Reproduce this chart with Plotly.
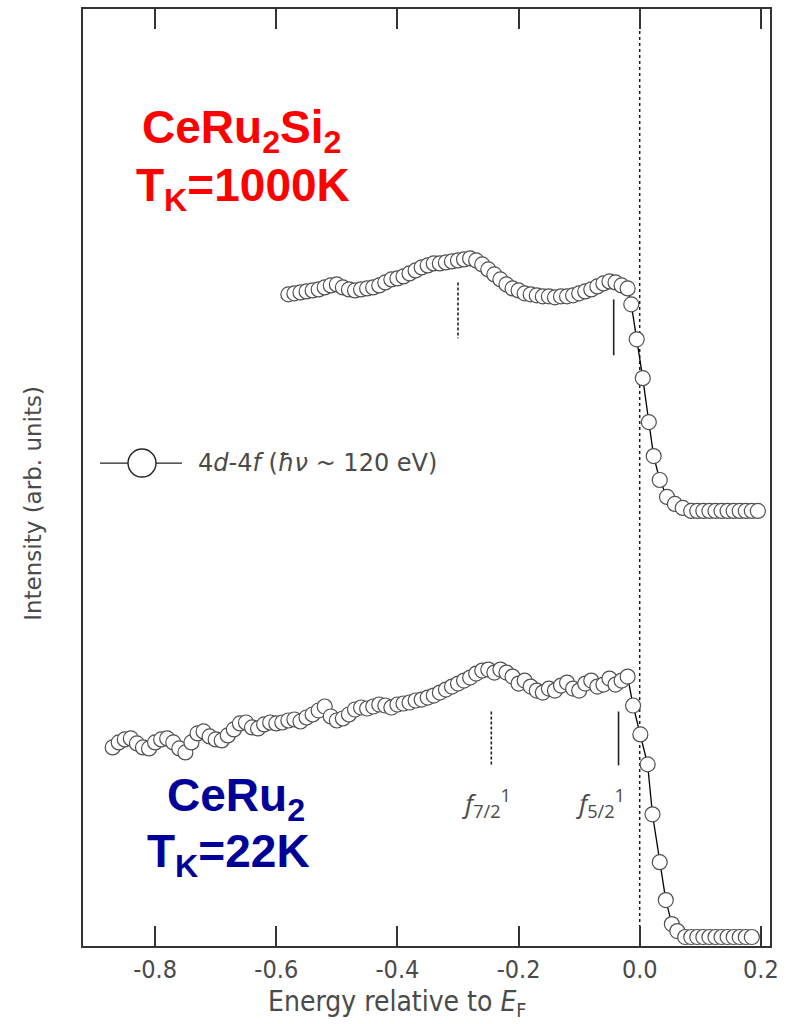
import numpy as np
import plotly.graph_objects as go

# ---- CeRu2Si2 (T_K = 1000 K), 4d-4f resonant photoemission ----
si_grid = np.round(np.arange(-0.58, -0.015, 0.01), 3).tolist()
si_edge_e = [-0.014, -0.005, 0.005, 0.015, 0.023, 0.033, 0.045, 0.058, 0.071,
             0.085, 0.095, 0.105, 0.115, 0.125, 0.135, 0.145, 0.155, 0.165,
             0.175, 0.185, 0.195]
si_vals = [6.53, 6.54, 6.55, 6.56, 6.57, 6.58, 6.60, 6.62, 6.63, 6.60,
           6.58, 6.57, 6.58, 6.59, 6.60, 6.62, 6.65, 6.68, 6.69, 6.71,
           6.74, 6.77, 6.80, 6.82, 6.84, 6.84, 6.85, 6.86, 6.87, 6.88,
           6.89, 6.87, 6.83, 6.78, 6.73, 6.68, 6.63, 6.59, 6.57, 6.54,
           6.53, 6.52, 6.51, 6.51, 6.50, 6.51, 6.51, 6.52, 6.54, 6.56,
           6.58, 6.61, 6.64, 6.66, 6.65, 6.62, 6.59]
si_edge_vals = [6.43, 6.08, 5.69, 5.25, 4.91, 4.67, 4.50, 4.43, 4.39,
                4.36, 4.36, 4.36, 4.36, 4.36, 4.36, 4.36, 4.36, 4.36,
                4.36, 4.36, 4.36]

# ---- CeRu2 (T_K = 22 K) ----
ru_grid = np.round(np.arange(-0.87, -0.015, 0.01), 3).tolist()
ru_edge_e = [-0.011, 0.001, 0.013, 0.021, 0.033, 0.043, 0.053, 0.062,
             0.075, 0.085, 0.095, 0.105, 0.115, 0.125, 0.135, 0.145,
             0.155, 0.165, 0.175, 0.185]
ru_vals = [1.99, 2.04, 2.07, 2.08, 2.03, 1.99, 1.98, 2.04, 2.07, 2.08,
           2.04, 1.98, 1.94, 2.04, 2.13, 2.15, 2.10, 2.07, 2.06, 2.11,
           2.17, 2.23, 2.24, 2.19, 2.18, 2.22, 2.24, 2.23, 2.24, 2.26,
           2.27, 2.25, 2.29, 2.32, 2.36, 2.40, 2.30, 2.26, 2.28, 2.32,
           2.37, 2.39, 2.38, 2.40, 2.42, 2.41, 2.39, 2.42, 2.43, 2.44,
           2.46, 2.47, 2.49, 2.51, 2.54, 2.57, 2.60, 2.63, 2.66, 2.69,
           2.73, 2.76, 2.77, 2.74, 2.77, 2.74, 2.70, 2.63, 2.66, 2.60,
           2.56, 2.54, 2.58, 2.56, 2.61, 2.64, 2.58, 2.56, 2.63, 2.66,
           2.60, 2.62, 2.68, 2.62, 2.66, 2.70]
ru_edge_vals = [2.41, 2.12, 1.82, 1.32, 0.84, 0.46, 0.22, 0.15,
                0.09, 0.09, 0.09, 0.09, 0.09, 0.09, 0.09, 0.09,
                0.09, 0.09, 0.09, 0.09]

# f-level markers: (energy, top, bottom) for f7/2 (dashed) and f5/2 (solid)
si_f72 = [-0.300, 6.65, 6.09]
si_f52 = [-0.043, 6.48, 5.92]
ru_f72 = [-0.245, 2.35, 1.81]
ru_f52 = [-0.035, 2.35, 1.81]

x_ticks = [-0.8, -0.6, -0.4, -0.2, 0.0, 0.2]

GRAY = "#4a4a4a"
NARROW = "Liberation Sans Narrow, DejaVu Sans Condensed, Arial Narrow, sans-serif"
SANS = "DejaVu Sans, Open Sans, sans-serif"
BOLD = "Liberation Sans, Arial, sans-serif"

marker = dict(symbol="circle", size=15, color="white",
              line=dict(color="#505050", width=1.2))

fig = go.Figure()
for e, v in [(si_grid + si_edge_e, si_vals + si_edge_vals),
             (ru_grid + ru_edge_e, ru_vals + ru_edge_vals)]:
    fig.add_trace(go.Scatter(x=e, y=v, mode="lines+markers",
                             line=dict(color="black", width=1.3),
                             marker=marker, showlegend=False,
                             hoverinfo="skip"))

shapes = [
    dict(type="line", xref="x", yref="paper", x0=0, x1=0, y0=0, y1=1,
         line=dict(color="black", width=1.3, dash="dot"), layer="below"),
]
for pk, dash in [(si_f72, "dash"), (si_f52, "solid"),
                 (ru_f72, "dash"), (ru_f52, "solid")]:
    shapes.append(dict(type="line", xref="x", yref="y", x0=pk[0], x1=pk[0],
                       y0=pk[1], y1=pk[2],
                       line=dict(color="#222", width=1.6,
                                 dash="3px,2px" if dash == "dash" else "solid")))

# legend key: line through an open circle
leg_x, leg_y = 0.0859, 0.5154
shapes.append(dict(type="line", xref="paper", yref="paper",
                   x0=0.0247, x1=0.144, y0=leg_y, y1=leg_y,
                   line=dict(color="#222", width=1.3)))
shapes.append(dict(type="circle", xref="paper", yref="paper",
                   xsizemode="pixel", ysizemode="pixel",
                   xanchor=leg_x, yanchor=leg_y, x0=-14, x1=14, y0=-14, y1=14,
                   fillcolor="white", line=dict(color="#222", width=1.4)))

annotations = [
    dict(xref="paper", yref="paper", x=0.164, y=leg_y, xanchor="left",
         yanchor="middle", showarrow=False,
         text="4<i>d</i>-4<i>f</i> (<i>ħν</i> ~ 120 eV)",
         font=dict(family=SANS, size=24, color=GRAY)),
    dict(x=-0.253, y=1.43, xref="x", yref="y", showarrow=False,
         xanchor="center", yanchor="middle",
         text="<i>f</i><sub>7/2</sub><sup>1</sup>",
         font=dict(family="Open Sans, sans-serif", size=26, color=GRAY)),
    dict(x=-0.064, y=1.43, xref="x", yref="y", showarrow=False,
         xanchor="center", yanchor="middle",
         text="<i>f</i><sub>5/2</sub><sup>1</sup>",
         font=dict(family="Open Sans, sans-serif", size=26, color=GRAY)),
    dict(xref="paper", yref="paper", x=0.230, y=0.904, showarrow=False,
         xanchor="center", yanchor="top",
         text="<b>CeRu<sub>2</sub>Si<sub>2</sub></b>",
         font=dict(family=BOLD, size=46, color="#ff0000")),
    dict(xref="paper", yref="paper", x=0.233, y=0.842, showarrow=False,
         xanchor="center", yanchor="top",
         text="<b>T<sub>K</sub>=1000K</b>",
         font=dict(family=BOLD, size=46, color="#ff0000")),
    dict(xref="paper", yref="paper", x=0.2227, y=0.1906, showarrow=False,
         xanchor="center", yanchor="top",
         text="<b>CeRu<sub>2</sub></b>",
         font=dict(family=BOLD, size=46, color="#000099")),
    dict(xref="paper", yref="paper", x=0.2125, y=0.131, showarrow=False,
         xanchor="center", yanchor="top",
         text="<b>T<sub>K</sub>=22K</b>",
         font=dict(family=BOLD, size=46, color="#000099")),
    # axis titles
    dict(xref="paper", yref="paper", x=0.457, y=-0.0615, showarrow=False,
         xanchor="center", yanchor="middle",
         text="Energy relative to <i>E</i><sub>F</sub>",
         font=dict(family=NARROW, size=28, color=GRAY)),
    dict(xref="paper", yref="paper", x=-0.0728, y=0.473, showarrow=False,
         xanchor="center", yanchor="middle", textangle=-90,
         text="Intensity (arb. units)",
         font=dict(family=SANS, size=23, color=GRAY)),
]

fig.update_layout(
    width=790, height=1024,
    margin=dict(l=83, r=20, t=7, b=78),
    paper_bgcolor="white", plot_bgcolor="white",
    shapes=shapes, annotations=annotations,
    xaxis=dict(range=[-0.919, 0.215], tickvals=x_ticks,
               ticktext=[f"{t:.1f}" for t in x_ticks],
               ticks="inside", ticklen=20, tickwidth=1.5, tickcolor="#333",
               showline=True, linecolor="#333", linewidth=2, mirror="ticks",
               showgrid=False, zeroline=False,
               tickfont=dict(family=NARROW, size=25, color=GRAY)),
    yaxis=dict(range=[0, 9.39], showticklabels=False, ticks="",
               showline=True, linecolor="#333", linewidth=2, mirror=True,
               showgrid=False, zeroline=False),
)

fig.write_html("out.html")
